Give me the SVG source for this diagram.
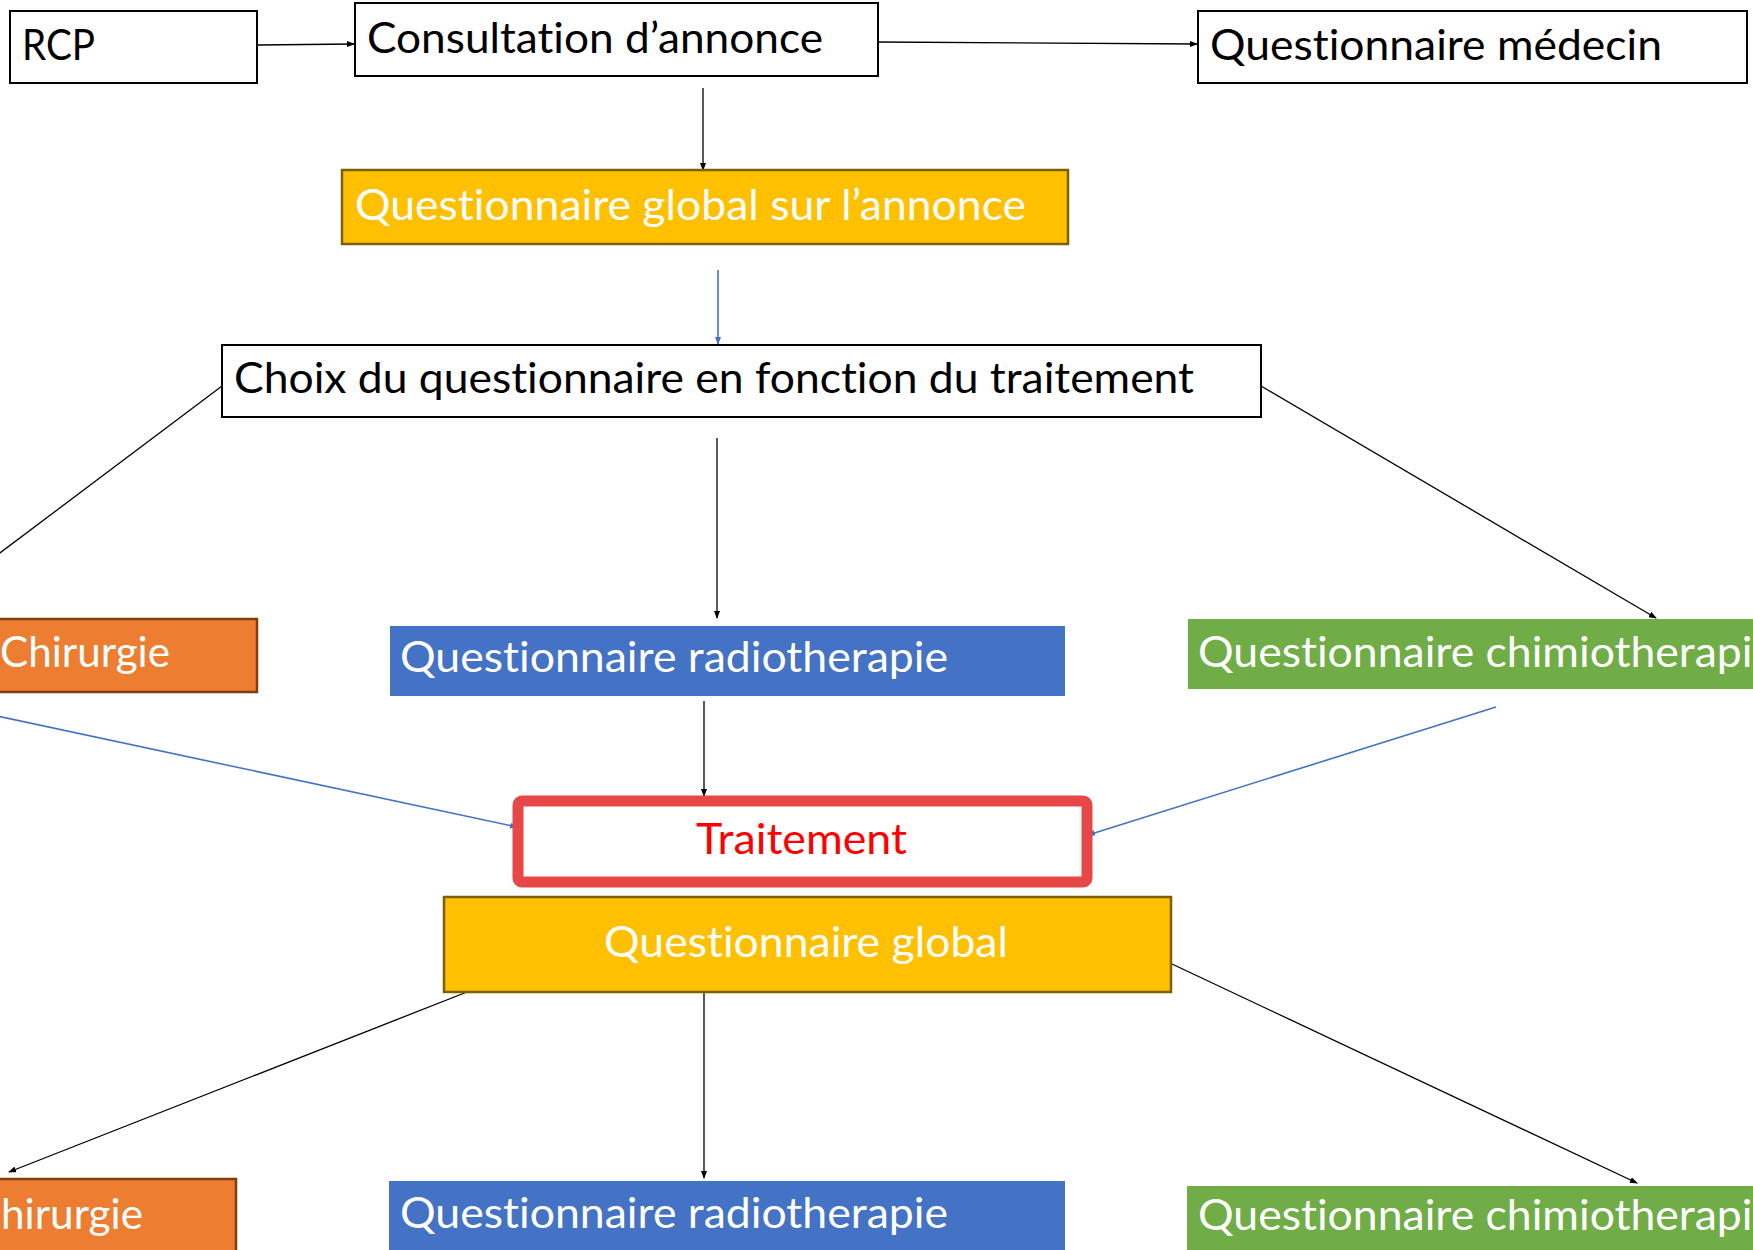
<svg xmlns="http://www.w3.org/2000/svg" width="1753" height="1250" viewBox="0 0 1753 1250">
<defs>
<marker id="ab" markerWidth="8" markerHeight="6" refX="7" refY="3" orient="auto" markerUnits="userSpaceOnUse"><path d="M0,0 L8,3 L0,6 Z" fill="#000"/></marker>
<marker id="au" markerWidth="8" markerHeight="6" refX="7" refY="3" orient="auto" markerUnits="userSpaceOnUse"><path d="M0,0 L8,3 L0,6 Z" fill="#4472C4"/></marker>
</defs>
<style>
text{font-family:Lato,"Open Sans","Liberation Sans",sans-serif;font-size:42px;font-variant-ligatures:none}
.w{fill:#fff;stroke:#000;stroke-width:2}
.gold{fill:#FFC000;stroke:#7F6000;stroke-width:2.5}
.org{fill:#ED7D31;stroke:#843C0C;stroke-width:2.5}
.blu{fill:#4472C4}
.grn{fill:#70AD47}
.tk{fill:#000}
.tw{fill:#fff}
.c{stroke:#000;stroke-width:1.3;fill:none}
.cb{stroke:#4472C4;stroke-width:1.6;fill:none}
</style>
<rect width="1753" height="1250" fill="#fff"/>
<g id="connectors">
<line class="c" x1="257" y1="45" x2="354" y2="44" marker-end="url(#ab)"/>
<line class="c" x1="878" y1="42" x2="1197" y2="44" marker-end="url(#ab)"/>
<line class="c" x1="703" y1="88" x2="703" y2="170" marker-end="url(#ab)"/>
<line class="cb" x1="718" y1="270" x2="718" y2="344" marker-end="url(#au)"/>
<line class="c" x1="222" y1="386" x2="-60" y2="598"/>
<line class="c" x1="717" y1="438" x2="717" y2="618" marker-end="url(#ab)"/>
<line class="c" x1="1261" y1="386" x2="1656" y2="618" marker-end="url(#ab)"/>
<line class="cb" x1="-50" y1="706" x2="517" y2="827" marker-end="url(#au)"/>
<line class="cb" x1="1496" y1="707" x2="1088" y2="835" marker-end="url(#au)"/>
<line class="c" x1="704" y1="701" x2="704" y2="796" marker-end="url(#ab)"/>
<line class="c" x1="467" y1="992" x2="9" y2="1172" marker-end="url(#ab)"/>
<line class="c" x1="704" y1="992" x2="704" y2="1178" marker-end="url(#ab)"/>
<line class="c" x1="1172" y1="964" x2="1637" y2="1183" marker-end="url(#ab)"/>
</g>
<g id="rcp"><rect class="w" x="10" y="11" width="247" height="72"/><text class="tk" x="22" y="60" textLength="73" lengthAdjust="spacingAndGlyphs">RCP</text></g>
<g id="consultation"><rect class="w" x="355" y="3" width="523" height="73"/><text class="tk" x="367" y="53" textLength="456" lengthAdjust="spacingAndGlyphs">Consultation d’annonce</text></g>
<g id="medecin"><rect class="w" x="1198" y="11" width="549" height="72"/><text class="tk" x="1210" y="60" textLength="452" lengthAdjust="spacingAndGlyphs">Questionnaire médecin</text></g>
<g id="global-annonce"><rect class="gold" x="342" y="170" width="726" height="74"/><text class="tw" x="355" y="220" textLength="671" lengthAdjust="spacingAndGlyphs">Questionnaire global sur l’annonce</text></g>
<g id="choix"><rect class="w" x="222" y="345" width="1039" height="72"/><text class="tk" x="234" y="393" textLength="960" lengthAdjust="spacingAndGlyphs">Choix du questionnaire en fonction du traitement</text></g>
<g id="chirurgie1"><rect class="org" x="-5" y="619" width="262" height="73"/><text class="tw" x="0" y="667" textLength="170" lengthAdjust="spacingAndGlyphs">Chirurgie</text></g>
<g id="radio1"><rect class="blu" x="390" y="626" width="675" height="70"/><text class="tw" x="400" y="672" textLength="548" lengthAdjust="spacingAndGlyphs">Questionnaire radiotherapie</text></g>
<g id="chimio1"><rect class="grn" x="1188" y="619" width="575" height="70"/><text class="tw" x="1198" y="667" textLength="578" lengthAdjust="spacingAndGlyphs">Questionnaire chimiotherapie</text></g>
<g id="traitement"><rect x="518" y="801" width="569" height="81" rx="4" fill="#fff" stroke="#E84747" stroke-width="11"/><text x="696" y="854" fill="#FF0000" textLength="211" lengthAdjust="spacingAndGlyphs">Traitement</text></g>
<g id="global"><rect class="gold" x="444" y="897" width="727" height="95"/><text class="tw" x="604" y="957" textLength="404" lengthAdjust="spacingAndGlyphs">Questionnaire global</text></g>
<g id="chirurgie2"><rect class="org" x="-5" y="1179" width="241" height="80"/><text class="tw" x="1" y="1229" textLength="142" lengthAdjust="spacingAndGlyphs">hirurgie</text></g>
<g id="radio2"><rect class="blu" x="389" y="1181" width="676" height="75"/><text class="tw" x="400" y="1228" textLength="548" lengthAdjust="spacingAndGlyphs">Questionnaire radiotherapie</text></g>
<g id="chimio2"><rect class="grn" x="1187" y="1186" width="576" height="70"/><text class="tw" x="1198" y="1230" textLength="578" lengthAdjust="spacingAndGlyphs">Questionnaire chimiotherapie</text></g>
</svg>
